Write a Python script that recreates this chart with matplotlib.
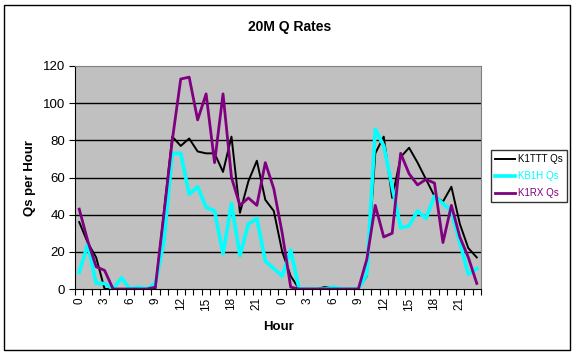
import numpy as np
import matplotlib
matplotlib.use("Agg")
import matplotlib.pyplot as plt
from matplotlib.patches import Rectangle

plt.rcParams['font.family'] = ['Liberation Sans', 'DejaVu Sans']

hour_labels = ["0", "3", "6", "9", "12", "15", "18", "21"] * 2

k1ttt = [36, 25, 17, 0, 0, 0, 0, 0, 0, 0, 41, 82, 77, 81, 74, 73,
         73, 63, 82, 41, 58, 69, 48, 42, 20, 7, 0, 0, 0, 1, 1, 0,
         0, 0, 7, 73, 82, 49, 71, 76, 68, 59, 50, 47, 55, 35, 22, 17]
kb1h = [9, 24, 3, 3, 0, 6, 0, 1, 0, 3, 25, 73, 73, 51, 55, 44,
        42, 19, 46, 18, 35, 38, 15, 11, 7, 21, 0, 0, 0, 0, 1, 0,
        0, 0, 8, 86, 77, 55, 33, 34, 42, 38, 50, 46, 42, 25, 8, 11]
k1rx = [43, 26, 12, 10, 0, 0, 0, 0, 0, 1, 40, 80, 113, 114, 91, 105,
        68, 105, 60, 45, 49, 45, 68, 54, 30, 1, 0, 0, 0, 0, 0, 0,
        0, 0, 16, 45, 28, 30, 73, 62, 56, 59, 57, 25, 45, 28, 17, 3]

series = [("K1TTT Qs", k1ttt, "#000000", 1.4),
          ("KB1H Qs", kb1h, "#00FFFF", 2.6),
          ("K1RX Qs", k1rx, "#800080", 2.0)]

fig = plt.figure(figsize=(5.76, 3.57), dpi=100)
ax = fig.add_axes([75 / 576, 1 - 289 / 357, 406 / 576, 223 / 357])
ax.set_facecolor("#C0C0C0")

x = np.arange(len(k1ttt))
for name, vals, color, lw in series:
    ax.plot(x, vals, color=color, lw=lw, label=name)

ax.set_xlim(-0.5, len(x) - 0.5)
ax.set_ylim(0, 120)
ax.set_yticks(range(0, 121, 20))
ax.tick_params(axis='y', direction='out', length=4, labelsize=9.5, pad=3)
for v in range(20, 120, 20):
    ax.axhline(v, color="black", lw=1, zorder=0.5)

# tick marks between categories, labels every third hour
ax.set_xticks(np.arange(-0.5, len(x), 1))
ax.set_xticklabels([])
ax.tick_params(axis='x', which='major', direction='out', length=4)
ax.set_xticks(np.arange(0, len(x), 3), minor=True)
ax.set_xticklabels(hour_labels, minor=True, rotation=90, fontsize=8.5)
ax.tick_params(axis='x', which='minor', length=0, pad=6)

for s in ["left", "bottom"]:
    ax.spines[s].set_color("black")
for s in ["top", "right"]:
    ax.spines[s].set_color("#808080")

fig.text(290 / 576, 1 - 27 / 357, "20M Q Rates", ha="center", va="center",
         fontsize=10, fontweight="bold")
fig.text(30 / 576, 1 - 178 / 357, "Qs per Hour", ha="center", va="center",
         rotation=90, fontsize=9.5, fontweight="bold")
fig.text(278 / 576, 1 - 327 / 357, "Hour", ha="center", va="center",
         fontsize=9.5, fontweight="bold")

leg = fig.legend(loc="upper left", bbox_to_anchor=(491 / 576, 1 - 150 / 357),
                 fontsize=7, frameon=True, fancybox=False, handlelength=2.0,
                 handletextpad=0.3, borderpad=0.45, labelspacing=0.7,
                 borderaxespad=0)
leg.get_frame().set_edgecolor("black")
leg.get_frame().set_linewidth(1)
for txt, (_, _, color, _) in zip(leg.get_texts(), series):
    txt.set_color(color)

fig.patches.append(Rectangle((4 / 576, 1 - 350 / 357), 566 / 576, 345 / 357,
                             transform=fig.transFigure, fill=False,
                             edgecolor="black", lw=1))

fig.savefig("out.png", dpi=100)
